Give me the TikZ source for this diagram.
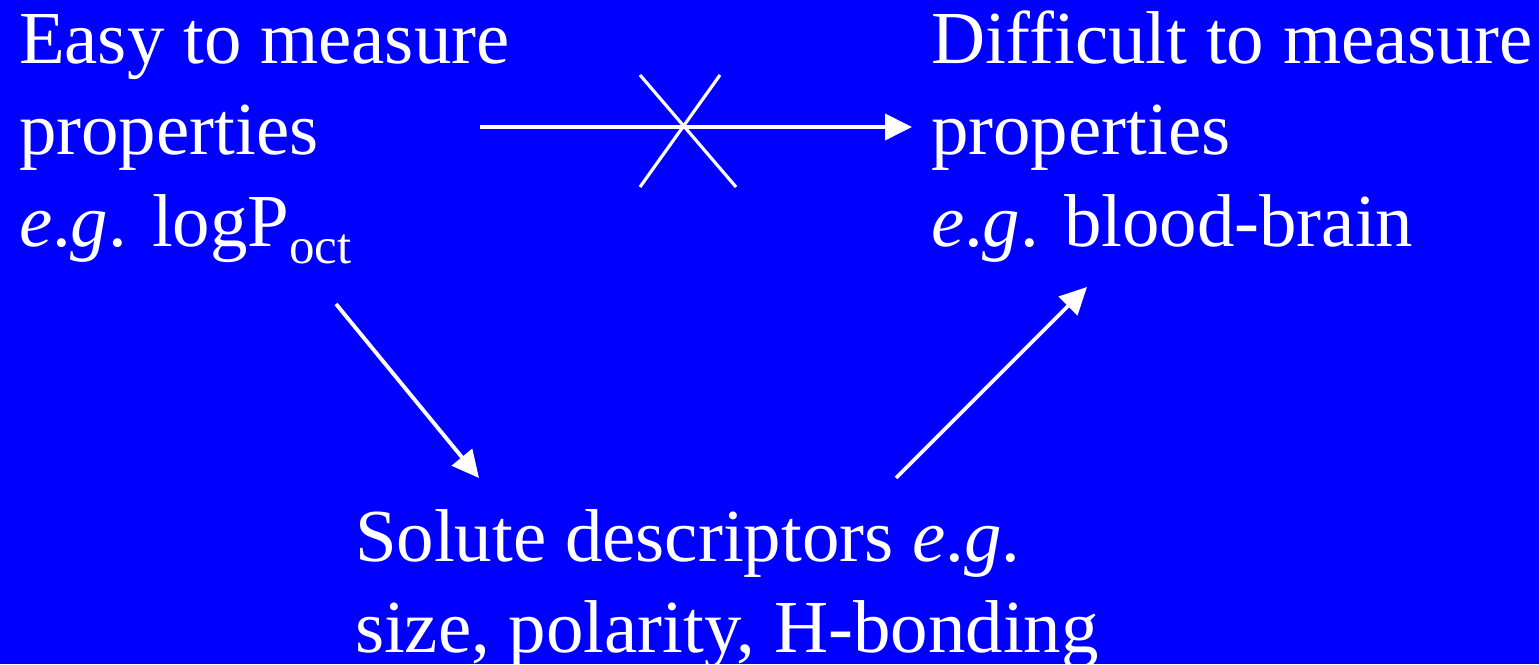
\documentclass[tikz,border=0pt]{standalone}
\usepackage{fontspec}
\setmainfont{Liberation Serif}
\usetikzlibrary{arrows.meta}
\definecolor{bg}{RGB}{0,0,255}
\tikzset{
  txt/.style={anchor=base west, inner sep=0pt, outer sep=0pt, text=white, font=\fontsize{21.3}{26}\selectfont},
  arr/.style={draw=white, line width=1.1pt, -{Triangle[length=0.27cm,width=0.26cm]}},
  cross/.style={draw=white, line width=0.9pt}
}
\newcommand{\eg}{\textit{e}.\textit{g}.}
\begin{document}
\begin{tikzpicture}
\fill[bg] (0,0) rectangle (15.39,6.64);
\useasboundingbox (0,0) rectangle (15.39,6.64);
% left block
\node[txt] (e1) at (0.19,6.00) {Easy to measure};
\node[txt] (e2) at (0.19,5.09) {properties};
\node[txt] (e3) at (0.19,4.17) {\eg{} logP\raisebox{-4.6pt}{\fontsize{14.5}{15}\selectfont oct}};
% right block
\node[txt] (d1) at (9.31,6.00) {Difficult to measure};
\node[txt] (d2) at (9.31,5.09) {properties};
\node[txt] (d3) at (9.31,4.17) {\eg{} blood-brain};
% bottom block
\node[txt] (s1) at (3.55,1.02) {Solute descriptors \eg};
\node[txt] (s2) at (3.55,0.12) {size, polarity, H-bonding};
% connectors
\coordinate (h1) at (4.80,5.37);
\coordinate (h2) at (9.12,5.37);
\draw[arr] (h1) -- (h2);
\coordinate (x1) at (6.40,5.89);
\coordinate (x2) at (7.36,4.77);
\coordinate (x3) at (7.20,5.89);
\coordinate (x4) at (6.40,4.77);
\draw[cross] (x1) -- (x2);
\draw[cross] (x3) -- (x4);
\coordinate (a1) at (3.36,3.60);
\coordinate (a2) at (4.79,1.86);
\draw[arr] (a1) -- (a2);
\coordinate (b1) at (8.96,1.86);
\coordinate (b2) at (10.87,3.77);
\draw[arr] (b1) -- (b2);
\end{tikzpicture}
\end{document}
